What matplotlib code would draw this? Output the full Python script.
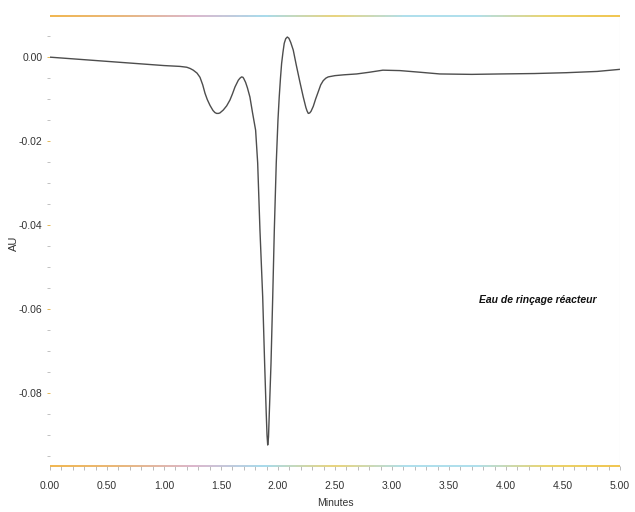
import numpy as np
import matplotlib
matplotlib.use("Agg")
import matplotlib.pyplot as plt
from matplotlib.collections import LineCollection
from matplotlib.colors import LinearSegmentedColormap
from matplotlib.ticker import MultipleLocator, FormatStrFormatter

plt.rcParams['font.family'] = ['Liberation Sans', 'DejaVu Sans']

# Chromatogram trace: retention time (min) vs absorbance (AU)
time_min = [0.00, 0.25, 0.50, 0.75, 1.00, 1.14, 1.20, 1.23, 1.257, 1.29, 1.316, 1.34,
            1.36, 1.38, 1.404, 1.43, 1.447, 1.462, 1.477, 1.49, 1.52, 1.55, 1.579,
            1.60, 1.623, 1.652, 1.667, 1.681, 1.693, 1.70, 1.716, 1.732, 1.754,
            1.776, 1.804, 1.822, 1.842, 1.866, 1.883, 1.897, 1.904, 1.910, 1.917,
            1.924, 1.939, 1.954, 1.968, 1.985, 2.000, 2.011, 2.022, 2.032, 2.044,
            2.055, 2.068, 2.082, 2.096, 2.112, 2.134, 2.16, 2.193, 2.222, 2.245,
            2.255, 2.266, 2.278, 2.29, 2.31, 2.33, 2.354, 2.375, 2.397, 2.42, 2.441,
            2.50, 2.58, 2.69, 2.80, 2.92, 3.07, 3.25, 3.42, 3.70, 3.95, 4.25, 4.53,
            4.80, 5.00]
absorbance = [0.0, -0.0005, -0.0010, -0.0015, -0.0020, -0.0022, -0.0024, -0.0027,
              -0.0031, -0.0038, -0.0048, -0.0066, -0.0086, -0.0101, -0.0115, -0.0127,
              -0.0132, -0.0134, -0.0134, -0.0133, -0.0126, -0.0116, -0.0102, -0.0088,
              -0.0071, -0.0055, -0.0050, -0.0047, -0.0048, -0.0051, -0.0060, -0.0073,
              -0.0095, -0.0131, -0.0174, -0.0252, -0.0412, -0.0571, -0.0729, -0.0848,
              -0.0900, -0.0924, -0.0905, -0.0848, -0.0729, -0.0571, -0.0412, -0.0252,
              -0.0150, -0.0095, -0.0050, -0.0015, 0.0012, 0.0033, 0.0044, 0.0048,
              0.0045, 0.0035, 0.0017, -0.0018, -0.0060, -0.0095, -0.0120, -0.0128,
              -0.0134, -0.0133, -0.0129, -0.0117, -0.0100, -0.0082, -0.0066, -0.0056,
              -0.0050, -0.0047, -0.0044, -0.0042, -0.0040, -0.0036, -0.0031, -0.0032,
              -0.0036, -0.0040, -0.0041, -0.0040, -0.0039, -0.0037, -0.0034, -0.0029]

x_ticks = [0.0, 0.5, 1.0, 1.5, 2.0, 2.5, 3.0, 3.5, 4.0, 4.5, 5.0]
y_ticks = [0.00, -0.02, -0.04, -0.06, -0.08]
x_range = (0.0, 5.0)
y_range = (-0.0974, 0.0098)
sample_label = "Eau de rinçage réacteur"

fig = plt.figure(figsize=(6.35, 5.12), dpi=100)
ax = fig.add_axes([0.0787, 0.0898, 0.8976, 0.8789])

ax.plot(time_min, absorbance, color='#4d4d4d', lw=1.0, solid_joinstyle='round')

ax.set_xlim(*x_range)
ax.set_ylim(*y_range)

# Frame: coloured top/bottom rules, faint right edge, no left spine
for s in ax.spines.values():
    s.set_visible(False)
ax.axvline(x_range[1], color='#dcdcdc', lw=0.8)

cmap = LinearSegmentedColormap.from_list(
    'rule', ['#f0b040', '#e6b070', '#d8b0c8', '#a0d8ea', '#e8d070', '#a8dcea',
             '#a8dcea', '#e8d060', '#f0c040'])
xs = np.linspace(0, 1, 200)
for yy in (0.0, 1.0):
    pts = np.column_stack([xs, np.full_like(xs, yy)]).reshape(-1, 1, 2)
    segs = np.concatenate([pts[:-1], pts[1:]], axis=1)
    lc = LineCollection(segs, cmap=cmap, lw=1.3, transform=ax.transAxes, clip_on=False)
    lc.set_array(xs[:-1])
    ax.add_collection(lc)

ax.set_xticks(x_ticks)
ax.xaxis.set_minor_locator(MultipleLocator(0.1))
ax.xaxis.set_major_formatter(FormatStrFormatter('%.2f'))
ax.set_yticks(y_ticks)
ax.yaxis.set_minor_locator(MultipleLocator(0.005))
ax.yaxis.set_major_formatter(FormatStrFormatter('%.2f'))

ax.tick_params(axis='x', which='both', direction='out', length=3, width=0.6,
               colors='#b0b0b0', labelcolor='#333333', labelsize=7.5, pad=8)
ax.tick_params(axis='y', which='both', direction='out', length=2.5, width=0.6,
               colors='#b8b8b8', labelcolor='#333333', labelsize=7.5, pad=3)
ax.tick_params(axis='y', which='major', colors='#e0b040', labelcolor='#333333')

ax.set_xlabel('Minutes', fontsize=7.5, color='#333333', labelpad=5)
ax.set_ylabel('AU', fontsize=8, color='#333333')
ax.yaxis.set_label_coords(-0.054, 0.495)

ax.text(0.855, 0.369, sample_label, transform=ax.transAxes, ha='center', va='center',
        fontsize=7.5, fontweight='bold', fontstyle='italic', color='#111111')

fig.savefig('out.png', dpi=100, facecolor='white')
